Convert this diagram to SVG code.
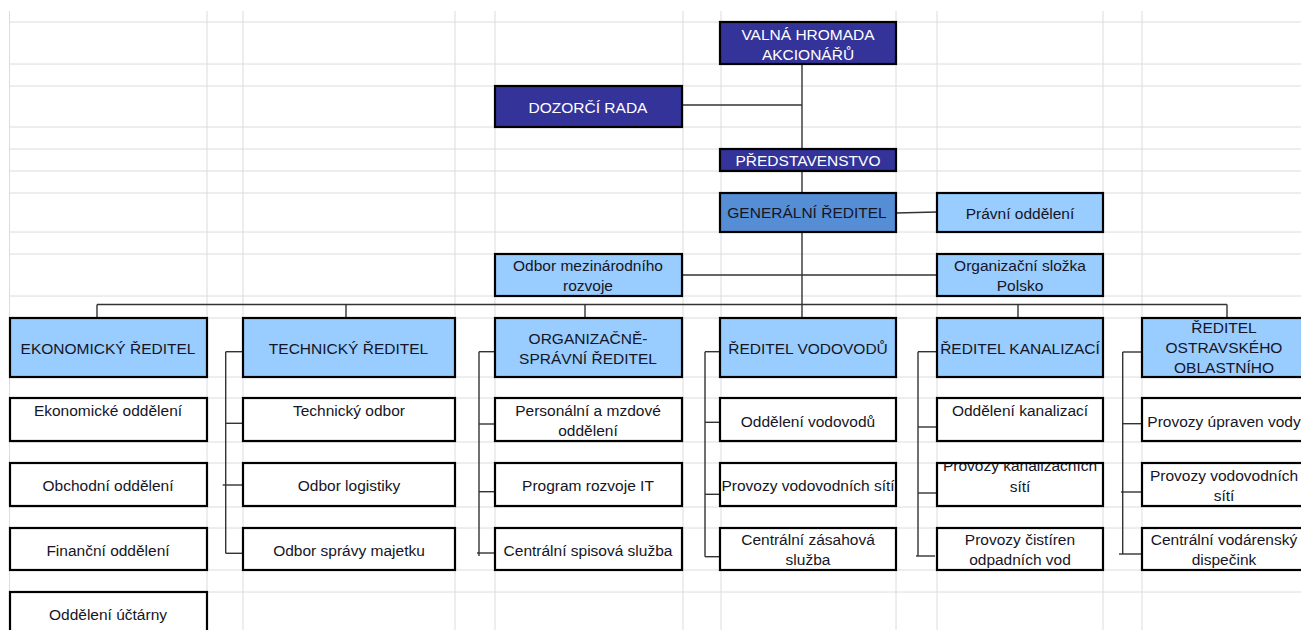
<svg xmlns="http://www.w3.org/2000/svg" width="1301" height="630" viewBox="0 0 1301 630">
<style>
.grid line{stroke:#dcdcdc;stroke-width:1}
.box{stroke:#000;stroke-width:2.2}
.navy{fill:#333399}
.mid{fill:#558ed5}
.light{fill:#99ccff}
.white{fill:#fff}
text{font-family:"Liberation Sans",Arial,sans-serif;font-size:15.5px;text-anchor:middle;fill:#151525}
.wt{fill:#ffffff}
#connectors line{stroke:#333;stroke-width:1.4}
</style>
<defs>
<clipPath id="cKan2"><rect x="937" y="463" width="166" height="43"/></clipPath>
<clipPath id="cOstr"><rect x="1142" y="318" width="168" height="59"/></clipPath>
</defs>
<rect width="1301" height="630" fill="#fff"/>
<g class="grid">
<line x1="9.5" y1="11" x2="9.5" y2="630"/>
<line x1="207" y1="11" x2="207" y2="630"/>
<line x1="243" y1="11" x2="243" y2="630"/>
<line x1="455" y1="11" x2="455" y2="630"/>
<line x1="495" y1="11" x2="495" y2="630"/>
<line x1="683" y1="11" x2="683" y2="630"/>
<line x1="721" y1="11" x2="721" y2="630"/>
<line x1="896" y1="11" x2="896" y2="630"/>
<line x1="937" y1="11" x2="937" y2="630"/>
<line x1="1103" y1="11" x2="1103" y2="630"/>
<line x1="1142" y1="11" x2="1142" y2="630"/>
<line x1="9.5" y1="22" x2="1301" y2="22"/>
<line x1="9.5" y1="64" x2="1301" y2="64"/>
<line x1="9.5" y1="86" x2="1301" y2="86"/>
<line x1="9.5" y1="127" x2="1301" y2="127"/>
<line x1="9.5" y1="149" x2="1301" y2="149"/>
<line x1="9.5" y1="171" x2="1301" y2="171"/>
<line x1="9.5" y1="193" x2="1301" y2="193"/>
<line x1="9.5" y1="232" x2="1301" y2="232"/>
<line x1="9.5" y1="254" x2="1301" y2="254"/>
<line x1="9.5" y1="296" x2="1301" y2="296"/>
<line x1="9.5" y1="318" x2="1301" y2="318"/>
<line x1="9.5" y1="377" x2="1301" y2="377"/>
<line x1="9.5" y1="398" x2="1301" y2="398"/>
<line x1="9.5" y1="442" x2="1301" y2="442"/>
<line x1="9.5" y1="463" x2="1301" y2="463"/>
<line x1="9.5" y1="507" x2="1301" y2="507"/>
<line x1="9.5" y1="528" x2="1301" y2="528"/>
<line x1="9.5" y1="570" x2="1301" y2="570"/>
<line x1="9.5" y1="592" x2="1301" y2="592"/>
</g>
<g id="connectors">
<line x1="802" y1="64" x2="802" y2="149"/>
<line x1="802" y1="171" x2="802" y2="193"/>
<line x1="802" y1="232" x2="802" y2="318"/>
<line x1="682" y1="105" x2="802" y2="105"/>
<line x1="896" y1="213" x2="937" y2="212"/>
<line x1="682" y1="275" x2="937" y2="275"/>
<line x1="97" y1="304.5" x2="1227" y2="304.5"/>
<line x1="97" y1="304.5" x2="97" y2="318"/>
<line x1="346" y1="304.5" x2="346" y2="318"/>
<line x1="585" y1="304.5" x2="585" y2="318"/>
<line x1="1018" y1="304.5" x2="1018" y2="318"/>
<line x1="1227" y1="304.5" x2="1227" y2="318"/>
<line x1="225.7" y1="351.7" x2="225.7" y2="553.3"/>
<line x1="225.7" y1="351.7" x2="243" y2="351.7"/>
<line x1="225.7" y1="423.3" x2="243" y2="423.3"/>
<line x1="222.7" y1="485" x2="243" y2="485"/>
<line x1="225.7" y1="553.3" x2="243" y2="553.3"/>
<line x1="479" y1="351.7" x2="479" y2="556"/>
<line x1="479" y1="351.7" x2="495" y2="351.7"/>
<line x1="479" y1="424" x2="495" y2="424"/>
<line x1="479" y1="491.7" x2="495" y2="491.7"/>
<line x1="477" y1="553" x2="495" y2="553"/>
<line x1="705" y1="351.7" x2="705" y2="556.7"/>
<line x1="705" y1="351.7" x2="720" y2="351.7"/>
<line x1="705" y1="422.3" x2="720" y2="422.3"/>
<line x1="705" y1="494.3" x2="720" y2="494.3"/>
<line x1="705" y1="556.7" x2="722" y2="556.7"/>
<line x1="918" y1="351.7" x2="918" y2="556"/>
<line x1="918" y1="351.7" x2="937" y2="351.7"/>
<line x1="918" y1="427" x2="937" y2="427"/>
<line x1="918" y1="493" x2="937" y2="493"/>
<line x1="916" y1="556" x2="935" y2="556"/>
<line x1="1122.7" y1="352" x2="1122.7" y2="554"/>
<line x1="1122.7" y1="352" x2="1142" y2="352"/>
<line x1="1122.7" y1="423.7" x2="1142" y2="423.7"/>
<line x1="1121" y1="492" x2="1142" y2="492"/>
<line x1="1119" y1="554" x2="1142" y2="554"/>
</g>
<g id="valna"><rect class="box navy" x="720" y="22" width="176" height="42"/><text class="wt" x="808" y="39.5">VALNÁ HROMADA</text><text class="wt" x="808" y="59.5">AKCIONÁŘŮ</text></g>
<g id="dozorci"><rect class="box navy" x="495" y="86" width="187" height="41"/><text class="wt" x="588" y="112.7">DOZORČÍ RADA</text></g>
<g id="predstavenstvo"><rect class="box navy" x="720" y="149" width="176" height="22"/><text class="wt" x="808" y="165.7">PŘEDSTAVENSTVO</text></g>
<g id="generalni"><rect class="box mid" x="720" y="193" width="176" height="39"/><text x="807" y="218.3">GENERÁLNÍ ŘEDITEL</text></g>
<g id="pravni"><rect class="box light" x="937" y="193" width="166" height="39"/><text x="1020" y="219">Právní oddělení</text></g>
<g id="odbor-mezinarodniho"><rect class="box light" x="495" y="254" width="187" height="42"/><text x="588" y="270.7">Odbor mezinárodního</text><text x="588" y="290.5">rozvoje</text></g>
<g id="polsko"><rect class="box light" x="937" y="254" width="166" height="42"/><text x="1020" y="270.7">Organizační složka</text><text x="1020" y="291">Polsko</text></g>
<g id="ekonomicky"><rect class="box light" x="10" y="318" width="197" height="59"/><text x="108" y="354.3">EKONOMICKÝ ŘEDITEL</text></g>
<g id="technicky"><rect class="box light" x="243" y="318" width="212" height="59"/><text x="348.5" y="354.3">TECHNICKÝ ŘEDITEL</text></g>
<g id="organizacne"><rect class="box light" x="495" y="318" width="187" height="59"/><text x="588" y="344.3">ORGANIZAČNĚ-</text><text x="588" y="364">SPRÁVNÍ ŘEDITEL</text></g>
<g id="vodovodu"><rect class="box light" x="720" y="318" width="176" height="59"/><text x="808" y="354">ŘEDITEL VODOVODŮ</text></g>
<g id="kanalizaci"><rect class="box light" x="937" y="318" width="166" height="59"/><text x="1020" y="354">ŘEDITEL KANALIZACÍ</text></g>
<g id="ostravsky"><rect class="box light" x="1142" y="318" width="168" height="59"/><g clip-path="url(#cOstr)"><text x="1224" y="333.3">ŘEDITEL</text><text x="1224" y="353.3">OSTRAVSKÉHO</text><text x="1224" y="373.3">OBLASTNÍHO</text></g></g>
<g id="ekonomicke-oddeleni"><rect class="box white" x="10" y="398" width="197" height="43"/><text x="108" y="416">Ekonomické oddělení</text></g>
<g id="obchodni"><rect class="box white" x="10" y="463" width="197" height="43"/><text x="108" y="491">Obchodní oddělení</text></g>
<g id="financni"><rect class="box white" x="10" y="528" width="197" height="42"/><text x="108" y="555.7">Finanční oddělení</text></g>
<g id="uctarny"><rect class="box white" x="10" y="592" width="197" height="50"/><text x="108" y="620">Oddělení účtárny</text></g>
<g id="technicky-odbor"><rect class="box white" x="243" y="398" width="212" height="43"/><text x="349" y="416">Technický odbor</text></g>
<g id="logistiky"><rect class="box white" x="243" y="463" width="212" height="43"/><text x="349" y="491">Odbor logistiky</text></g>
<g id="spravy-majetku"><rect class="box white" x="243" y="528" width="212" height="42"/><text x="349" y="555.7">Odbor správy majetku</text></g>
<g id="personalni"><rect class="box white" x="495" y="398" width="187" height="43"/><text x="588" y="415.7">Personální a mzdové</text><text x="588" y="435.7">oddělení</text></g>
<g id="program-it"><rect class="box white" x="495" y="463" width="187" height="43"/><text x="588" y="491">Program rozvoje IT</text></g>
<g id="spisova"><rect class="box white" x="495" y="528" width="187" height="42"/><text x="588" y="555.7">Centrální spisová služba</text></g>
<g id="oddeleni-vodovodu"><rect class="box white" x="720" y="398" width="176" height="43"/><text x="808" y="426.7">Oddělení vodovodů</text></g>
<g id="provozy-vodovodnich-siti"><rect class="box white" x="720" y="463" width="176" height="43"/><text x="808" y="491">Provozy vodovodních sítí</text></g>
<g id="zasahova"><rect class="box white" x="720" y="528" width="176" height="42"/><text x="808" y="545">Centrální zásahová</text><text x="808" y="565">služba</text></g>
<g id="oddeleni-kanalizaci"><rect class="box white" x="937" y="398" width="166" height="43"/><text x="1020" y="415.7">Oddělení kanalizací</text></g>
<g id="provozy-kanalizacnich"><rect class="box white" x="937" y="463" width="166" height="43"/><g clip-path="url(#cKan2)"><text x="1020" y="471">Provozy kanalizačních</text><text x="1020" y="491.7">sítí</text></g></g>
<g id="cistiren"><rect class="box white" x="937" y="528" width="166" height="42"/><text x="1020" y="545">Provozy čistíren</text><text x="1020" y="565">odpadních vod</text></g>
<g id="upraven"><rect class="box white" x="1142" y="398" width="168" height="43"/><text x="1224" y="426.7">Provozy úpraven vody</text></g>
<g id="vodovodnich-siti"><rect class="box white" x="1142" y="463" width="168" height="43"/><text x="1224" y="481">Provozy vodovodních</text><text x="1224" y="501">sítí</text></g>
<g id="dispecink"><rect class="box white" x="1142" y="528" width="168" height="42"/><text x="1224" y="545">Centrální vodárenský</text><text x="1224" y="565">dispečink</text></g>
</svg>
